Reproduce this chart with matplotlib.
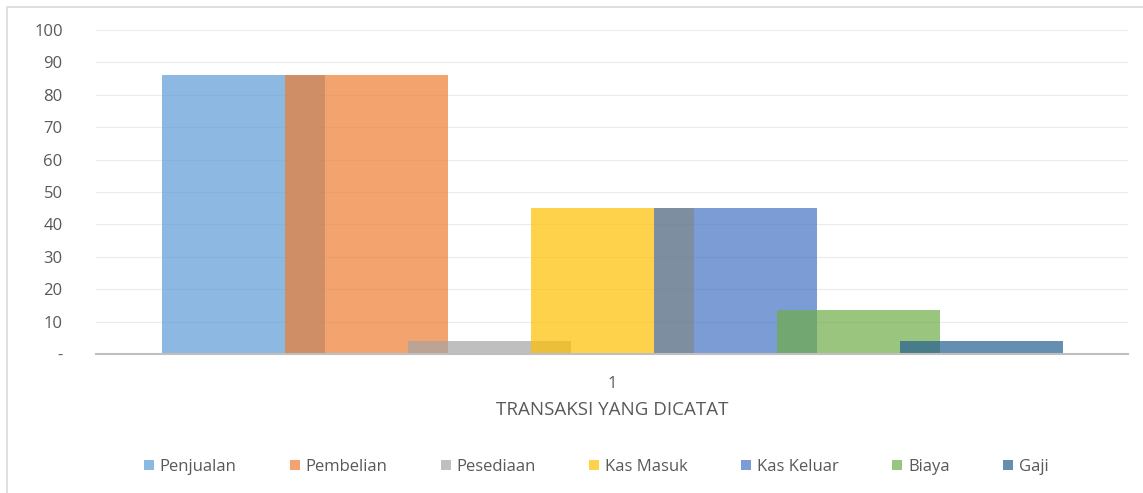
import matplotlib
matplotlib.use('Agg')
import matplotlib.pyplot as plt
from matplotlib.patches import Rectangle, Patch

# Data
series = ['Penjualan', 'Pembelian', 'Pesediaan', 'Kas Masuk', 'Kas Keluar', 'Biaya', 'Gaji']
values = [86, 86, 4, 45, 45, 13.5, 4]
colors = ['#5B9BD5', '#ED7D31', '#A5A5A5', '#FFC000', '#4472C4', '#70AD47', '#255E91']
category = '1'
yticks = [0, 10, 20, 30, 40, 50, 60, 70, 80, 90, 100]
ytick_labels = ['-', '10', '20', '30', '40', '50', '60', '70', '80', '90', '100']

plt.rcParams['font.family'] = ['Open Sans', 'DejaVu Sans']
text_color = '#595959'

fig = plt.figure(figsize=(11.43, 4.93), dpi=100)
W, H = 1143, 493
ax = fig.add_axes([96 / W, 1 - 354 / H, (1128 - 96) / W, (354 - 30) / H])

# chart border (only top and left edges fall inside the picture)
fig.patches.append(Rectangle((7 / W, -0.05), 1.1, 1 - 7 / H + 0.05,
                             transform=fig.transFigure, fill=False,
                             edgecolor='#D9D9D9', linewidth=1.2))

step = 123 / 1032
width = 163 / 1032
n = len(series)
for i, (name, val, col) in enumerate(zip(series, values, colors)):
    x = (i - (n - 1) / 2) * step
    ax.bar(x, val, width=width, color=col, alpha=0.7, linewidth=0, zorder=3 + i)

ax.set_xlim(-0.5, 0.5)
ax.set_ylim(0, 100)
ax.set_yticks(yticks)
ax.set_yticklabels(ytick_labels)
ax.set_xticks([0])
ax.set_xticklabels([category])
ax.grid(axis='y', color='#EBEBEB', linewidth=0.8, zorder=0)
ax.tick_params(axis='y', length=0, labelsize=12, colors=text_color, pad=24)
ax.tick_params(axis='x', length=0, labelsize=12, colors=text_color, pad=16)
for side in ['top', 'right', 'left']:
    ax.spines[side].set_visible(False)
ax.spines['bottom'].set_color('#BFBFBF')
ax.spines['bottom'].set_linewidth(1.5)
ax.spines['bottom'].set_zorder(20)

fig.text(612 / W, 1 - 410 / H, 'TRANSAKSI YANG DICATAT', ha='center', va='center',
         fontsize=13.5, color=text_color)

handles = [Patch(facecolor=c, alpha=0.7, edgecolor='none') for c in colors]
fig.legend(handles, series, loc='center', bbox_to_anchor=(596 / W, 1 - 467 / H),
           ncol=n, frameon=False, fontsize=12, handlelength=0.6, handleheight=0.6,
           handletextpad=0.35, columnspacing=3.2, labelcolor=text_color)

fig.savefig('out.png', dpi=100)
